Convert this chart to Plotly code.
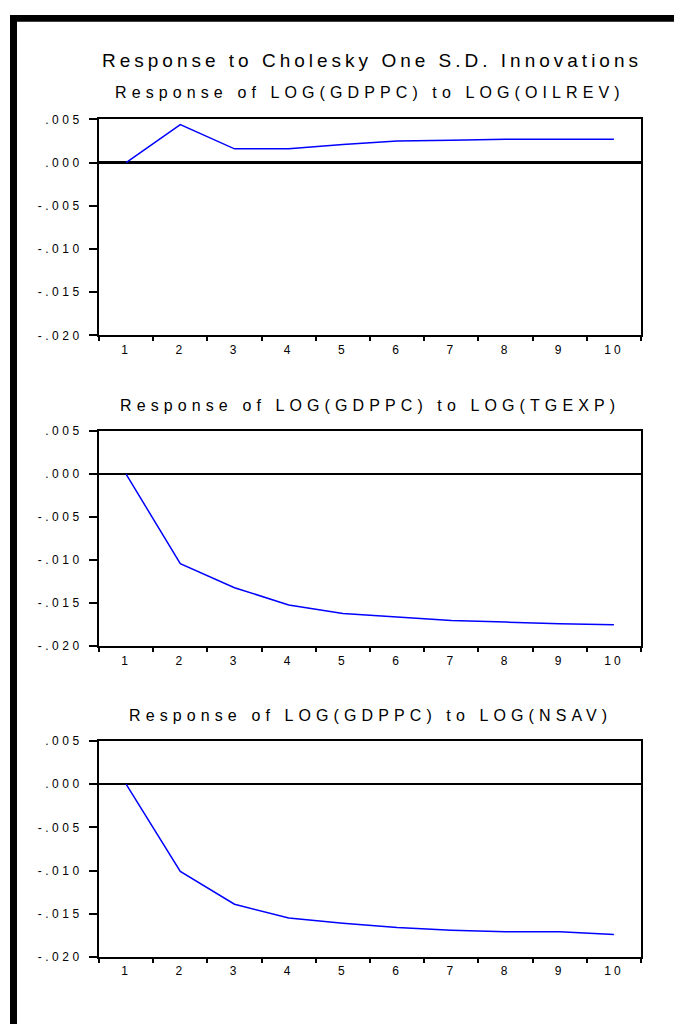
import plotly.graph_objects as go

periods = ["1", "2", "3", "4", "5", "6", "7", "8", "9", "10"]
resp_oilrev = [0.0, 0.0044, 0.0016, 0.0016, 0.0021, 0.0025, 0.0026, 0.0027, 0.0027, 0.0027]
resp_tgexp = [0.0, -0.0104, -0.0132, -0.0152, -0.0162, -0.0166, -0.0170, -0.0172, -0.0174, -0.0175]
resp_nsav = [0.0, -0.0101, -0.0139, -0.0155, -0.0161, -0.0166, -0.0169, -0.0171, -0.0171, -0.0174]
ytick_vals = [-0.020, -0.015, -0.010, -0.005, 0.000, 0.005]
ytick_text = ["-.020", "-.015", "-.010", "-.005", ".000", ".005"]

main_title = "Response to Cholesky One S.D. Innovations"
sub_titles = ["Response of LOG(GDPPC) to LOG(OILREV)",
              "Response of LOG(GDPPC) to LOG(TGEXP)",
              "Response of LOG(GDPPC) to LOG(NSAV)"]
series = [resp_oilrev, resp_tgexp, resp_nsav]

W, H = 674, 1031
def py(p):
    return 1 - p / H
def px(p):
    return p / W

def spaced(t, s):
    return '<span style="letter-spacing:%spx">%s</span>' % (s, t)

x_dom = [px(99), px(641)]
panels = [(114, 333, 87), (430, 648, 404), (744, 963, 718)]
zero_w = [3, 1.6, 1.6]

fig = go.Figure()
layout = dict(width=W, height=H, margin=dict(l=0, r=0, t=0, b=0),
              paper_bgcolor="white", plot_bgcolor="white", showlegend=False,
              font=dict(family="Arial, Liberation Sans", color="black"))
annotations = []
for i, (top, bot, ty) in enumerate(panels):
    n = "" if i == 0 else str(i + 1)
    fig.add_trace(go.Scatter(x=periods, y=series[i], mode="lines",
                             line=dict(color="#0000FF", width=1.5),
                             xaxis="x" + n, yaxis="y" + n, hoverinfo="skip"))
    layout["xaxis" + n] = dict(domain=x_dom, anchor="y" + n, type="category",
                               range=[-0.5, 9.5], tickvals=periods,
                               ticktext=[spaced(p, 3) for p in periods],
                               tickson="boundaries", ticks="outside", ticklen=4,
                               tickwidth=2, tickcolor="black", showline=True,
                               linecolor="black", linewidth=2, mirror=True,
                               showgrid=False, zeroline=False, ticklabelstandoff=2,
                               tickfont=dict(size=12, color="black"))
    layout["yaxis" + n] = dict(domain=[py(bot), py(top)], anchor="x" + n,
                               range=[-0.020, 0.005], tickvals=ytick_vals,
                               ticktext=[spaced(t, 3.5) for t in ytick_text],
                               ticks="outside", ticklen=8,
                               tickwidth=1.5, tickcolor="black", showline=True,
                               linecolor="black", linewidth=2, mirror=True,
                               showgrid=False, zeroline=True, zerolinecolor="black",
                               zerolinewidth=zero_w[i], ticklabelstandoff=4,
                               tickfont=dict(size=12, color="black"))
    annotations.append(dict(x=px(370), y=py(ty), xref="paper", yref="paper",
                            text=spaced(sub_titles[i], 5.1),
                            showarrow=False, xanchor="center", yanchor="middle",
                            font=dict(size=16, color="black")))

annotations.append(dict(x=px(372), y=py(54), xref="paper", yref="paper",
                        text=spaced(main_title, 4),
                        showarrow=False, xanchor="center", yanchor="middle",
                        font=dict(size=19, color="black")))
layout["annotations"] = annotations
layout["shapes"] = [
    dict(type="rect", xref="paper", yref="paper", x0=px(10), x1=px(17),
         y0=0, y1=py(8), fillcolor="black", line=dict(width=0)),
    dict(type="rect", xref="paper", yref="paper", x0=px(10), x1=1,
         y0=py(15), y1=py(8), fillcolor="black", line=dict(width=0)),
]
fig.update_layout(**layout)
fig.write_html("out.html", post_script="document.body.style.margin='0px';",
               config={"displayModeBar": False})
